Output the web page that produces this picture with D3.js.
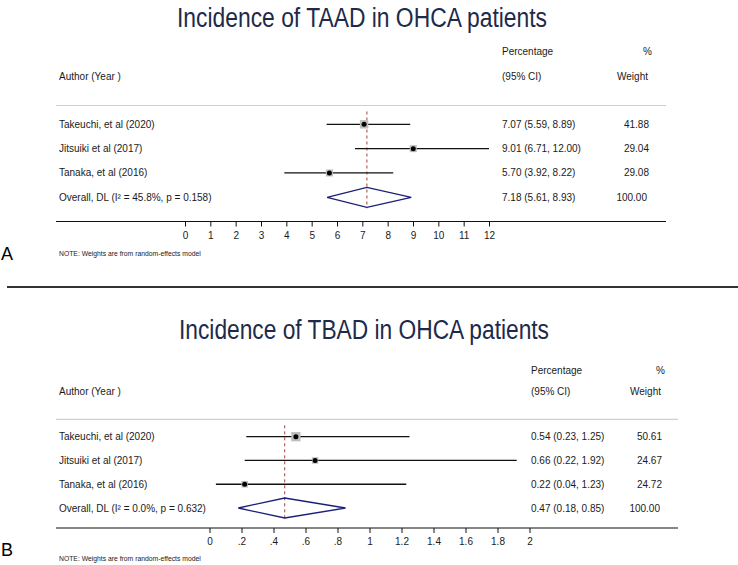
<!DOCTYPE html>
<html><head><meta charset="utf-8">
<script src="https://cdn.jsdelivr.net/npm/d3@7"></script>
<style>
body{margin:0;background:#fff;}
svg{display:block;font-family:"Liberation Sans",Arial,Helvetica,sans-serif;}
</style></head>
<body><svg id="chart" width="738" height="565"></svg>
<script>
// ---- data ----
const studies = ["Takeuchi, et al (2020)", "Jitsuiki et al (2017)", "Tanaka, et al (2016)"];

const taadTitle = "Incidence of TAAD in OHCA patients";
const taadEst = [7.07, 9.01, 5.70];
const taadLow = [5.59, 6.71, 3.92];
const taadHigh = [8.89, 12.00, 8.22];
const taadWeight = [41.88, 29.04, 29.08];
const taadOverall = [7.18, 5.61, 8.93];
const taadHet = "Overall, DL (I\u00B2 = 45.8%, p = 0.158)";
const taadTicks = [0,1,2,3,4,5,6,7,8,9,10,11,12];
const taadTickLabels = ["0","1","2","3","4","5","6","7","8","9","10","11","12"];

const tbadTitle = "Incidence of TBAD in OHCA patients";
const tbadEst = [0.54, 0.66, 0.22];
const tbadLow = [0.23, 0.22, 0.04];
const tbadHigh = [1.25, 1.92, 1.23];
const tbadWeight = [50.61, 24.67, 24.72];
const tbadOverall = [0.47, 0.18, 0.85];
const tbadHet = "Overall, DL (I\u00B2 = 0.0%, p = 0.632)";
const tbadTicks = [0,0.2,0.4,0.6,0.8,1,1.2,1.4,1.6,1.8,2];
const tbadTickLabels = ["0",".2",".4",".6",".8","1","1.2","1.4","1.6","1.8","2"];

const noteText = "NOTE: Weights are from random-effects model";

// ---- drawing ----
const svg = d3.select("#chart");
const fmt = d3.format(".2f");

function panel(cfg, d) {
  const g = svg.append("g");
  const x = d3.scaleLinear().domain(cfg.domain).range(cfg.range);
  const y = d3.scalePoint().domain(d3.range(4)).range([cfg.row0, cfg.row3]);
  const box = w => 1.3 * Math.sqrt(w);

  g.append("text").attr("x", cfg.titleX).attr("y", cfg.titleY)
    .attr("text-anchor", "middle").attr("dominant-baseline", "central")
    .attr("font-size", 27).attr("fill", "#1e2a4a")
    .attr("textLength", cfg.titleW).attr("lengthAdjust", "spacingAndGlyphs")
    .text(d.title);

  const txt = (xx, yy, s, anchor, size) => g.append("text")
    .attr("x", xx).attr("y", yy).attr("dominant-baseline", "central")
    .attr("text-anchor", anchor || "start").attr("font-size", size || 10)
    .attr("fill", "#1a1a1a").text(s);

  txt(cfg.ciX, cfg.h1Y, "Percentage");
  txt(cfg.wX + 3, cfg.h1Y, "%", "end");
  txt(cfg.labelX, cfg.h2Y, "Author (Year )");
  txt(cfg.ciX, cfg.h2Y, "(95% CI)");
  txt(cfg.wX - 1, cfg.h2Y, "Weight", "end");

  g.append("line").attr("x1", cfg.lineX0).attr("x2", cfg.lineX1)
    .attr("y1", cfg.sepY).attr("y2", cfg.sepY)
    .attr("stroke", "#cfcfcf").attr("stroke-width", 1.2);

  // reference line
  g.append("line").attr("x1", x(d.overall[0])).attr("x2", x(d.overall[0]))
    .attr("y1", cfg.sepY + 6).attr("y2", y(3) + 11)
    .attr("stroke", "#a8413c").attr("stroke-width", 1)
    .attr("stroke-dasharray", "3,3");

  const rows = d.est.map((e, i) => ({e, lo: d.low[i], hi: d.high[i], w: d.weight[i], name: studies[i], i}));
  const rg = g.selectAll("g.row").data(rows).join("g");
  rg.append("line").attr("x1", r => x(r.lo)).attr("x2", r => x(r.hi))
    .attr("y1", r => y(r.i)).attr("y2", r => y(r.i))
    .attr("stroke", "#111").attr("stroke-width", 1.3);
  rg.append("rect")
    .attr("x", r => x(r.e) - box(r.w) / 2)
    .attr("y", r => y(r.i) - box(r.w) / 2)
    .attr("width", r => box(r.w))
    .attr("height", r => box(r.w))
    .attr("fill", "#bdbdbd");
  rg.append("circle").attr("cx", r => x(r.e)).attr("cy", r => y(r.i))
    .attr("r", 2.5).attr("fill", "#000");
  rg.each(function(r) {
    txt(cfg.labelX, y(r.i), r.name);
    txt(cfg.ciX, y(r.i), `${fmt(r.e)} (${fmt(r.lo)}, ${fmt(r.hi)})`);
    txt(cfg.wX, y(r.i), fmt(r.w), "end");
  });

  // overall diamond
  const yo = y(3), o = d.overall;
  g.append("path")
    .attr("d", `M${x(o[1])},${yo}L${x(o[0])},${yo - 10}L${x(o[2])},${yo}L${x(o[0])},${yo + 10}Z`)
    .attr("fill", "none").attr("stroke", "#1b1f78").attr("stroke-width", 1.3);
  txt(cfg.labelX, yo, d.het);
  txt(cfg.ciX, yo, `${fmt(o[0])} (${fmt(o[1])}, ${fmt(o[2])})`);
  txt(cfg.wX - 2, yo, "100.00", "end");

  // axis
  g.append("line").attr("x1", cfg.lineX0).attr("x2", cfg.lineX1)
    .attr("y1", cfg.axisY).attr("y2", cfg.axisY)
    .attr("stroke", "#111").attr("stroke-width", 1.2);
  const axis = d3.axisBottom(x).tickValues(d.ticks)
    .tickFormat((v, i) => d.tickLabels[i]).tickSize(5).tickPadding(5);
  const ag = g.append("g").attr("transform", `translate(0,${cfg.axisY})`).call(axis);
  ag.select(".domain").remove();
  ag.selectAll("line").attr("stroke", "#111").attr("stroke-width", 1);
  ag.selectAll("text").attr("font-size", 10).attr("fill", "#1a1a1a")
    .attr("font-family", "\"Liberation Sans\",Arial,sans-serif");

  g.append("text").attr("x", cfg.labelX).attr("y", cfg.noteY)
    .attr("dominant-baseline", "central").attr("font-size", 6.8)
    .attr("fill", "#1a1a1a").text(noteText);

  g.append("text").attr("x", 1).attr("y", cfg.letterY)
    .attr("dominant-baseline", "central").attr("font-size", 18)
    .attr("fill", "#000").text(cfg.letter);
}

panel({domain: [0, 12], range: [185, 489], row0: 124.3, row3: 197.3,
       titleX: 362, titleY: 18, titleW: 370, labelX: 59, ciX: 502, wX: 649,
       h1Y: 51.5, h2Y: 76.5, sepY: 105.5, lineX0: 56, lineX1: 666,
       axisY: 221.5, noteY: 253.5, letterY: 254, letter: "A"},
  {title: taadTitle, est: taadEst, low: taadLow, high: taadHigh, weight: taadWeight,
   overall: taadOverall, het: taadHet, ticks: taadTicks, tickLabels: taadTickLabels});

svg.append("line").attr("x1", 7).attr("x2", 738).attr("y1", 287).attr("y2", 287)
  .attr("stroke", "#333").attr("stroke-width", 2);

panel({domain: [0, 2], range: [209.5, 529.5], row0: 436.7, row3: 508,
       titleX: 364, titleY: 330, titleW: 370, labelX: 59, ciX: 531, wX: 662,
       h1Y: 370, h2Y: 391.7, sepY: 419.3, lineX0: 56, lineX1: 678,
       axisY: 528, noteY: 558, letterY: 550, letter: "B"},
  {title: tbadTitle, est: tbadEst, low: tbadLow, high: tbadHigh, weight: tbadWeight,
   overall: tbadOverall, het: tbadHet, ticks: tbadTicks, tickLabels: tbadTickLabels});
</script></body></html>
